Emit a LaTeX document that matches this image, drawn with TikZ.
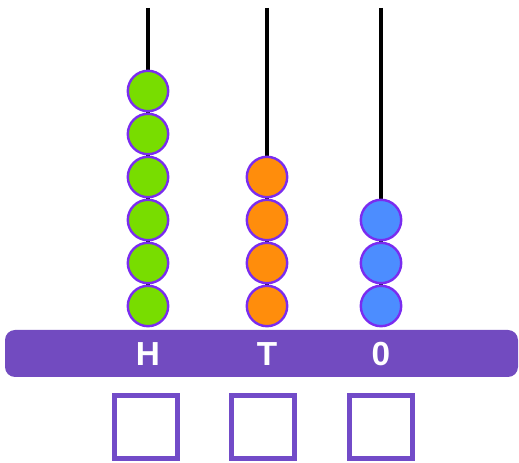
\documentclass[tikz,border=0pt]{standalone}
\usepackage{fontspec}
\setmainfont{Liberation Sans}
\usetikzlibrary{backgrounds}
\definecolor{beadgreen}{RGB}{120,221,0}
\definecolor{beadorange}{RGB}{255,141,12}
\definecolor{beadblue}{RGB}{76,141,255}
\definecolor{beadline}{RGB}{122,44,240}
\definecolor{basepurple}{RGB}{114,75,192}
\definecolor{boxpurple}{RGB}{114,75,200}
\tikzset{
  bead/.style={circle,draw=beadline,line width=1.8pt,inner sep=0pt,minimum size=30.3pt},
  rod/.style={line width=2.6pt,black},
  placelabel/.style={text=white,font=\fontsize{25}{25}\selectfont\bfseries,inner sep=0pt},
  answerbox/.style={rectangle,draw=boxpurple,line width=3.75pt,fill=white,minimum size=47.25pt,inner sep=0pt}
}
\begin{document}
\begin{tikzpicture}[x=0.75pt,y=0.75pt,yscale=-1,xscale=1]
\useasboundingbox (0,0) rectangle (519,463);

% beads: hundreds
\foreach \i in {1,...,6}
  \node (H\i) at (148,{306-43*(\i-1)}) [bead,fill=beadgreen] {};
% beads: tens
\foreach \i in {1,...,4}
  \node (T\i) at (267,{306-43*(\i-1)}) [bead,fill=beadorange] {};
% beads: ones
\foreach \i in {1,...,3}
  \node (O\i) at (381,{306-43*(\i-1)}) [bead,fill=beadblue] {};

% rods, drawn behind the beads
\coordinate (topH) at (148,8);
\coordinate (topT) at (267,8);
\coordinate (topO) at (381,8);
\begin{scope}[on background layer]
\draw [rod] (topH) -- (H1.center);
\draw [rod] (topT) -- (T1.center);
\draw [rod] (topO) -- (O1.center);
\end{scope}

% base bar
\node (base) at (261.5,353.5) [rectangle,rounded corners=7.5pt,fill=basepurple,minimum width=384.75pt,minimum height=35.25pt,inner sep=0pt] {};

% Text Node
\node (labH) at (148,354) [placelabel] {H};
% Text Node
\node (labT) at (267,354) [placelabel] {T};
% Text Node
\node (labO) at (381,354) [placelabel] {0};

% answer boxes
\node (boxH) at (146,427) [answerbox] {};
\node (boxT) at (263,427) [answerbox] {};
\node (boxO) at (381,427) [answerbox] {};

\end{tikzpicture}
\end{document}
